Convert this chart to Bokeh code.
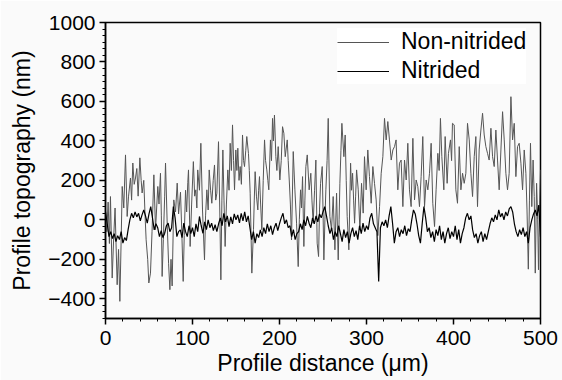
import numpy as np
from bokeh.plotting import figure
from bokeh.models import Range1d, SingleIntervalTicker, Legend, LegendItem
from bokeh.embed import file_html
from bokeh.resources import INLINE

# ---- data ----
series_names = ["Non-nitrided", "Nitrided"]

# Non-nitrided profile: (distance µm, height nm)
non_nitrided = [
    (0, 40), (1.5, -60), (3, 90), (4.5, -120), (5.7, 118), (7.7, -295), (9.5, -80), (11, 60),
    (13.4, -329), (15, -150), (16.5, -413), (18, -100), (19.2, 169), (21, 60), (23, 329), (24.9, 17),
    (26.5, 120), (28.7, 212), (30, 100), (31.4, 288), (33, 180), (34.5, 212), (36, 260), (37.5, 120),
    (39.5, 314), (41, 200), (42.1, 136), (44, 200), (45.5, 20), (46.7, -101), (48.5, -200), (49.8, -320),
    (51.7, -270), (53.5, -60), (55.6, 228), (57.5, -50), (58.8, 60), (60.1, 169), (61.5, 80), (63.2, 236),
    (64.2, 20), (65.1, -287), (66.5, -100), (68, 120), (69, 288), (70.9, -17), (72.5, -220), (74, -354),
    (75.3, -200), (76.6, -335), (78.5, 101), (80.5, 40), (82.4, 186), (84, 30), (86.2, 140), (87.7, -60),
    (89.3, -312), (90.5, -80), (92, 150), (93.3, 40), (94.6, 190), (95.4, 253), (97.3, -135), (99, 80),
    (101, 295), (102.5, 120), (103.8, 152), (105, 60), (106, 253), (108, 150), (109.6, 388), (111.5, 50),
    (113.8, -203), (115, 20), (116.5, 152), (118, 50), (119.2, 253), (120.8, 150), (122.2, 84), (123.8, 200),
    (125.3, 278), (126.7, 100), (128, 135), (129.9, 396), (131.3, 60), (132.6, -304), (133.8, 100), (134.9, 354),
    (136.2, 100), (137.5, -135), (139, 80), (140.6, 253), (142, 150), (143.3, 388), (144.7, 250), (146, 481),
    (147.2, 300), (148.3, 152), (149.8, 354), (151, 250), (152.1, 363), (153.5, 200), (154.8, 270), (156.2, 180),
    (157.5, 430), (158.7, 300), (159.8, 270), (161.2, 350), (162.4, 422), (164.3, 337), (165.3, 250), (166.3, 135),
    (168.2, -270), (170.1, -50), (171, 100), (172, 244), (173.5, 120), (175.1, 50), (176, 150), (177, 219),
    (178.3, 80), (179.7, -50), (181.3, 200), (182.8, 405), (184, 300), (185.4, 253), (186.6, 200), (187.7, 152),
    (189.6, 405), (190.8, 300), (192, 514), (193, 400), (194.2, 531), (195.8, 320), (197, 250), (198.5, 371),
    (200.4, 202), (202, 300), (203.5, 472), (205, 439), (206.6, 320), (208.9, 405), (210, 300), (211.2, 202),
    (212.5, 80), (213.8, -102), (215.8, 346), (217.7, 152), (219.6, -17), (221.5, -237), (222.8, 0), (224.2, 152),
    (225.3, 60), (226.5, 219), (228, -135), (229.2, 100), (230.3, 270), (231.9, 329), (234.1, 152), (236, 236),
    (237.3, 100), (238.7, -17), (240.3, 150), (241.8, 303), (243.3, -118), (244.9, -186), (246, 50), (247.2, 185),
    (249.1, 270), (250, 50), (251, -203), (252.2, 0), (253.3, 152), (254.7, 300), (256, 514), (257.9, 17),
    (259.8, -50), (261.7, 118), (263.7, -152), (265.6, 135), (267.5, -203), (268.5, 0), (269.4, 185), (270.6, 350),
    (271.7, 489), (274, 320), (275.5, 430), (276.7, 200), (277.8, 17), (279.7, -152), (281.7, 287), (282.8, 150),
    (284, 236), (285.2, 100), (286.3, -17), (287.5, 120), (288.6, 253), (290.5, 152), (292.4, -50), (294.3, 185),
    (296.2, 34), (297.7, 320), (299.6, 152), (301.5, 354), (303.4, 219), (305.4, 84), (307.3, 270), (309.2, 185),
    (311.1, 101), (313, -80), (315, 67), (316.9, 236), (318.8, 320), (320.7, 514), (322.6, 405), (324.5, 498),
    (326.4, 405), (328.4, 303), (330.3, 354), (332.2, 371), (334, 405), (336, 152), (337.9, 287), (339.8, 303),
    (341.8, 67), (343.7, 303), (345.6, 202), (347.5, 388), (349.4, 152), (351.3, 67), (353.3, 413), (355.2, 101),
    (357.1, 202), (359, 168), (360.9, 67), (362.8, 219), (364.7, 422), (366.7, 67), (368.6, 202), (370.5, 152),
    (372.4, 236), (374.3, 388), (376.2, 84), (378.2, -34), (380, 152), (382, 337), (383.5, 250), (385, 514),
    (386.6, 320), (388.9, 152), (390.4, 422), (392.7, 185), (394.2, 337), (396.5, 405), (397.8, 300), (398.8, 489),
    (400.8, 481), (402.7, 152), (404.6, 84), (406.6, 371), (408.5, 152), (410.4, 236), (412.3, 185), (414.2, 236),
    (416.1, 489), (418.1, 405), (420, 236), (421.9, 118), (423.8, 320), (425.7, 422), (427.6, 67), (429.5, 354),
    (431.5, 455), (433.4, 540), (435.3, 430), (437.2, 371), (439.1, 337), (441, 303), (443, 464), (444.9, 320),
    (446.8, 270), (448.7, 455), (450.6, 303), (452.5, 152), (454.5, 354), (456.4, 548), (458.3, 405), (460.2, 236),
    (462.1, 152), (464, 236), (466, 624), (467.9, 405), (469.8, 489), (471.7, 219), (473.6, 371), (475.5, 388),
    (477.5, 287), (479.4, 152), (481.3, 354), (483.2, 236), (484.5, 50), (486, -250), (487.3, 100), (488.5, 388),
    (490, 67), (491.5, 303), (492.8, 118), (494, -270), (495.5, 185), (496.8, 0), (497.7, -253), (499, 100),
    (500, 253),
]

# Nitrided profile: heights (nm) sampled every 2 µm from 0 to 500 µm
nitrided_y = [
    42, -20, -85, -60, -95, -70, -110, -80, -100, -60,
    -118, -90, -105, -50, 0, 33, 10, 40, 15, 33,
    -5, 25, 50, 20, -17, 30, 67, 10, -51, -20,
    -40, -85, -55, -90, -68, -30, -17, -60, -40, 67,
    10, -85, -60, -51, -90, -17, -60, -85, -30, -70,
    -40, -85, -20, -60, 17, -30, -68, -10, -50, 0,
    -40, -17, -55, -25, -60, -20, 10, -30, 33, -10,
    20, -34, 15, -20, 30, 0, 25, -15, 33, -5,
    40, -10, 20, -40, -100, -60, -118, -70, -90, -51,
    -85, -40, -70, -20, -60, -30, -75, -40, -17, -55,
    -20, 10, 33, -20, 0, -40, -30, -85, -50, -100,
    -70, -60, -20, -50, 0, -30, 17, -17, -40, 10,
    -20, 20, -10, 30, 10, 40, 67, 20, -30, -70,
    -40, -100, -60, -85, -30, -70, -110, -50, -90, -60,
    -118, -70, -40, -85, -55, -100, -30, -70, -17, -60,
    -30, -50, 10, 33, -20, -40, -60, -313, -40, -10,
    -30, 0, -40, 20, 67, -20, -118, -60, -40, -85,
    -50, -70, -30, -80, -45, -60, 0, 50, 30, -20,
    -80, -118, -20, 67, 10, -60, -40, -90, -60, -110,
    -50, -80, -30, -100, -60, -118, -70, -40, -95, -60,
    -85, -30, -100, -50, -118, -70, -40, 10, 33, 0,
    20, -51, -90, -70, -118, -80, -60, -110, -70, -100,
    -60, -20, 10, -10, 25, 0, 50, 15, 33, 0,
    40, 20, 55, 67, 40, -20, -60, -85, -50, -75,
    -40, -85, -60, -118, -40, 0, 30, 50, 20, 75,
    -85,
]

x_range = (0, 500)
y_range = (-500, 1000)
x_tick_step = 100
y_tick_step = 200

non_x = [p[0] for p in non_nitrided]
non_y = [p[1] for p in non_nitrided]
nit_x = np.linspace(x_range[0], x_range[1], len(nitrided_y))

FONT = "Liberation Sans"
BG = "#fafafa"

p = figure(width=562, height=380, output_backend="svg", toolbar_location=None,
           x_range=Range1d(*x_range), y_range=Range1d(*y_range),
           min_border_left=105, min_border_right=22, min_border_top=22, min_border_bottom=62)
p.background_fill_color = BG
p.border_fill_color = BG
p.outline_line_color = "black"
p.outline_line_width = 1.5
p.grid.visible = False

r_non = p.line(non_x, non_y, line_color="#555555", line_width=1)
r_nit = p.line(nit_x, nitrided_y, line_color="black", line_width=1.2)

p.xaxis.ticker = SingleIntervalTicker(interval=x_tick_step, num_minor_ticks=5)
p.yaxis.ticker = SingleIntervalTicker(interval=y_tick_step, num_minor_ticks=6)

for ax in (p.xaxis[0], p.yaxis[0]):
    ax.axis_line_color = "black"
    ax.axis_line_width = 1.5
    ax.major_tick_line_color = "black"
    ax.major_tick_line_width = 1.5
    ax.minor_tick_line_color = "black"
    ax.minor_tick_line_width = 1
    ax.major_tick_in = 0
    ax.major_tick_out = 6
    ax.minor_tick_in = 0
    ax.minor_tick_out = 3
    ax.major_label_text_font = FONT
    ax.major_label_text_font_size = "21px"
    ax.major_label_text_color = "black"
    ax.axis_label_text_font = FONT
    ax.axis_label_text_font_size = "23px"
    ax.axis_label_text_font_style = "normal"
    ax.axis_label_text_color = "black"

p.xaxis.axis_label = "Profile distance (\u03bcm)"
p.yaxis.axis_label = "Profile topography (nm)"
p.xaxis.major_label_standoff = 6
p.xaxis.axis_label_standoff = 2
p.yaxis.major_label_standoff = 4
p.yaxis.axis_label_standoff = 10

legend = Legend(items=[LegendItem(label=series_names[0], renderers=[r_non]),
                       LegendItem(label=series_names[1], renderers=[r_nit])],
                location=(232, 234))
legend.border_line_color = None
legend.background_fill_color = "white"
legend.background_fill_alpha = 1
legend.padding = 5
legend.spacing = 2
legend.glyph_width = 52
legend.glyph_height = 26
legend.label_height = 26
legend.label_standoff = 12
legend.label_text_font = FONT
legend.label_text_font_size = "23px"
legend.label_text_color = "black"
p.add_layout(legend)

open("out.html", "w").write(file_html(p, INLINE))
